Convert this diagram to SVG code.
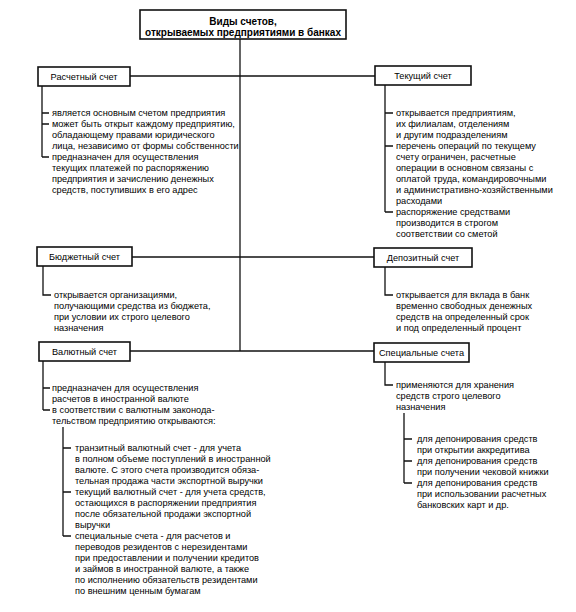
<svg xmlns="http://www.w3.org/2000/svg" width="576" height="612" viewBox="0 0 576 612">
<style>
  text { font-family: "Liberation Sans", Arial, sans-serif; fill: #000; }
  .t { font-size: 9.2px; }
  .lbl { font-size: 9.2px; text-anchor: middle; }
  .ttl { font-size: 10px; font-weight: bold; text-anchor: middle; }
  .box { fill: #fff; stroke: #111; stroke-width: 1.6; }
  .ln { stroke: #111; stroke-width: 1.3; fill: none; }
</style>
<rect width="576" height="612" fill="#fff"/>
<g id="connectors">
  <line class="ln" x1="240" y1="39" x2="240" y2="351"/>
  <line class="ln" x1="130" y1="76" x2="375" y2="76"/>
  <line class="ln" x1="132" y1="257" x2="374" y2="257"/>
  <line class="ln" x1="130" y1="351" x2="374" y2="351"/>
  <path class="ln" d="M42 86 V157 M42 113 H49 M42 124 H49 M42 157 H49"/>
  <path class="ln" d="M385 85 V212 M385 113 H393 M385 146 H393 M385 212 H393"/>
  <path class="ln" d="M43 266 V295 H51"/>
  <path class="ln" d="M385 267 V295 H393"/>
  <path class="ln" d="M43 361 V410 M43 388 H50 M43 410 H50"/>
  <path class="ln" d="M63 427 V536 M63 448 H71 M63 492 H71 M63 536 H71"/>
  <path class="ln" d="M385 362 V385 H393"/>
  <path class="ln" d="M404 413 V483 M404 439 H412 M404 461 H412 M404 483 H412"/>
</g>
<g id="title">
  <rect class="box" x="140" y="10" width="206" height="29"/>
  <text class="ttl" x="243" y="25">Виды счетов,</text>
  <text class="ttl" x="243" y="36">открываемых предприятиями в банках</text>
</g>
<g id="raschetny">
  <rect class="box" x="38" y="67" width="92" height="19"/>
  <text class="lbl" x="84" y="80">Расчетный счет</text>
  <text class="t" x="52" y="116">является основным счетом предприятия</text>
  <text class="t" x="52" y="127">может быть открыт каждому предприятию,</text>
  <text class="t" x="52" y="138">обладающему правами юридического</text>
  <text class="t" x="52" y="149">лица, независимо от формы собственности</text>
  <text class="t" x="52" y="160">предназначен для осуществления</text>
  <text class="t" x="52" y="171">текущих платежей по распоряжению</text>
  <text class="t" x="52" y="182">предприятия и зачислению денежных</text>
  <text class="t" x="52" y="193">средств, поступивших в его адрес</text>
</g>
<g id="tekushchy">
  <rect class="box" x="375" y="66" width="96" height="19"/>
  <text class="lbl" x="423" y="79">Текущий счет</text>
  <text class="t" x="396" y="116">открывается предприятиям,</text>
  <text class="t" x="396" y="127">их филиалам, отделениям</text>
  <text class="t" x="396" y="138">и другим подразделениям</text>
  <text class="t" x="396" y="149">перечень операций по текущему</text>
  <text class="t" x="396" y="160">счету ограничен, расчетные</text>
  <text class="t" x="396" y="171">операции в основном связаны с</text>
  <text class="t" x="396" y="182">оплатой труда, командировочными</text>
  <text class="t" x="396" y="193">и административно-хозяйственными</text>
  <text class="t" x="396" y="204">расходами</text>
  <text class="t" x="396" y="215">распоряжение средствами</text>
  <text class="t" x="396" y="226">производится в строгом</text>
  <text class="t" x="396" y="237">соответствии со сметой</text>
</g>
<g id="byudzhetny">
  <rect class="box" x="37" y="247" width="95" height="19"/>
  <text class="lbl" x="84.5" y="260">Бюджетный счет</text>
  <text class="t" x="54" y="298">открывается организациями,</text>
  <text class="t" x="54" y="309">получающими средства из бюджета,</text>
  <text class="t" x="54" y="320">при условии их строго целевого</text>
  <text class="t" x="54" y="331">назначения</text>
</g>
<g id="depozitny">
  <rect class="box" x="374" y="248" width="98" height="19"/>
  <text class="lbl" x="423" y="261">Депозитный счет</text>
  <text class="t" x="396" y="298">открывается для вклада в банк</text>
  <text class="t" x="396" y="309">временно свободных денежных</text>
  <text class="t" x="396" y="320">средств на определенный срок</text>
  <text class="t" x="396" y="331">и под определенный процент</text>
</g>
<g id="valyutny">
  <rect class="box" x="39" y="342" width="91" height="19"/>
  <text class="lbl" x="84.5" y="355">Валютный счет</text>
  <text class="t" x="52" y="391">предназначен для осуществления</text>
  <text class="t" x="52" y="402">расчетов в иностранной валюте</text>
  <text class="t" x="52" y="413">в соответствии с валютным законода-</text>
  <text class="t" x="52" y="424">тельством предприятию открываются:</text>
  <text class="t" x="75" y="451">транзитный валютный счет - для учета</text>
  <text class="t" x="75" y="462">в полном объеме поступлений в иностранной</text>
  <text class="t" x="75" y="473">валюте. С этого счета производится обяза-</text>
  <text class="t" x="75" y="484">тельная продажа части экспортной выручки</text>
  <text class="t" x="75" y="495">текущий валютный счет - для учета средств,</text>
  <text class="t" x="75" y="506">остающихся в распоряжении предприятия</text>
  <text class="t" x="75" y="517">после обязательной продажи экспортной</text>
  <text class="t" x="75" y="528">выручки</text>
  <text class="t" x="75" y="539">специальные счета - для расчетов и</text>
  <text class="t" x="75" y="550">переводов резидентов с нерезидентами</text>
  <text class="t" x="75" y="561">при предоставлении и получении кредитов</text>
  <text class="t" x="75" y="572"> и займов в иностранной валюте, а также</text>
  <text class="t" x="75" y="583">по исполнению обязательств резидентами</text>
  <text class="t" x="75" y="594">по внешним ценным бумагам</text>
</g>
<g id="specialnye">
  <rect class="box" x="374" y="343" width="95" height="19"/>
  <text class="lbl" x="421.5" y="356">Специальные счета</text>
  <text class="t" x="396" y="388">применяются для хранения</text>
  <text class="t" x="396" y="399">средств строго целевого</text>
  <text class="t" x="396" y="410">назначения</text>
  <text class="t" x="417" y="442">для депонирования средств</text>
  <text class="t" x="417" y="453">при открытии аккредитива</text>
  <text class="t" x="417" y="464">для депонирования средств</text>
  <text class="t" x="417" y="475">при получении чековой книжки</text>
  <text class="t" x="417" y="486">для депонирования средств</text>
  <text class="t" x="417" y="497">при использовании расчетных</text>
  <text class="t" x="417" y="508">банковских карт и др.</text>
</g>
</svg>
